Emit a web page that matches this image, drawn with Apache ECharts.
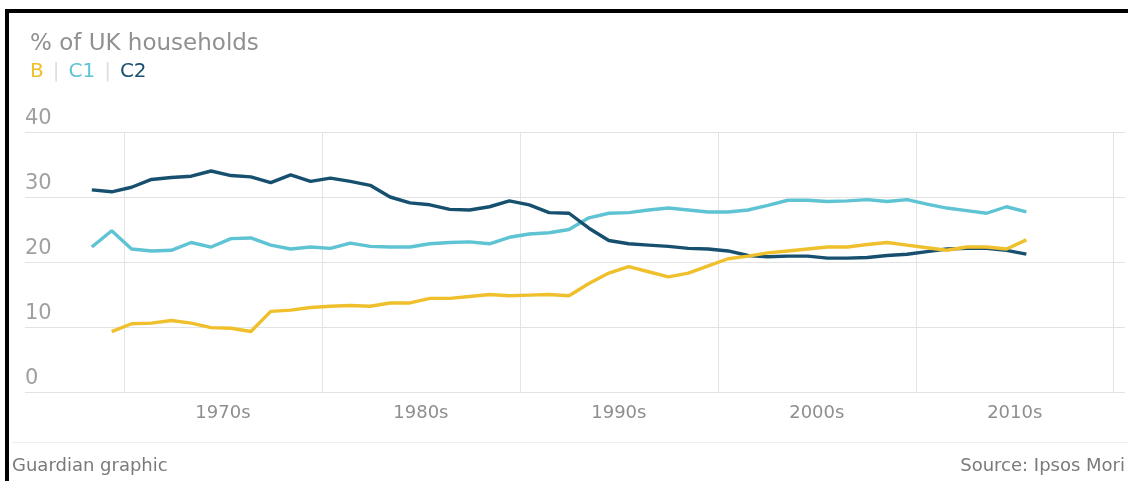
<!DOCTYPE html>
<html><head><meta charset="utf-8">
<script src="https://cdn.jsdelivr.net/npm/echarts@6/dist/echarts.min.js"></script>
<style>
html,body{margin:0;padding:0;background:#fff;overflow:hidden;width:1128px;height:481px;}
#frame{position:absolute;left:5px;top:9px;width:1123px;height:472px;border-left:4px solid #000;border-top:4px solid #000;box-sizing:border-box;}
#chart{position:absolute;left:0;top:0;width:1128px;height:481px;}
</style></head><body>
<div id="frame"></div>
<div id="chart"></div>
<script>
const years = [1968,1969,1970,1971,1972,1973,1974,1975,1976,1977,1978,1979,1980,1981,1982,1983,1984,1985,1986,1987,1988,1989,1990,1991,1992,1993,1994,1995,1996,1997,1998,1999,2000,2001,2002,2003,2004,2005,2006,2007,2008,2009,2010,2011,2012,2013,2014,2015];
const seriesB  = [null,9.3,10.5,10.6,11.0,10.6,9.9,9.8,9.3,12.4,12.6,13.0,13.2,13.3,13.2,13.7,13.7,14.4,14.4,14.7,15.0,14.8,14.9,15.0,14.8,16.7,18.3,19.3,18.5,17.7,18.3,19.4,20.5,20.9,21.4,21.7,22.0,22.3,22.3,22.7,23.0,22.6,22.2,21.8,22.3,22.3,22.0,23.4];
const seriesC1 = [22.3,24.8,22.0,21.7,21.8,23.0,22.3,23.6,23.7,22.6,22.0,22.3,22.1,22.9,22.4,22.3,22.3,22.8,23.0,23.1,22.8,23.8,24.3,24.5,25.0,26.8,27.5,27.6,28.0,28.3,28.0,27.7,27.7,28.0,28.7,29.5,29.5,29.3,29.4,29.6,29.3,29.6,28.9,28.3,27.9,27.5,28.5,27.7];
const seriesC2 = [31.1,30.8,31.5,32.7,33.0,33.2,34.0,33.3,33.1,32.2,33.4,32.4,32.9,32.4,31.8,30.0,29.1,28.8,28.1,28.0,28.5,29.4,28.8,27.6,27.5,25.2,23.3,22.8,22.6,22.4,22.1,22.0,21.7,21.0,20.8,20.9,20.9,20.6,20.6,20.7,21.0,21.2,21.6,22.0,22.1,22.1,21.8,21.2];
const decadeLabels = ['1970s','1980s','1990s','2000s','2010s'];
const yTicks = [0,10,20,30,40];

const colB = '#efc02c', colC1 = '#5ec3d3', colC2 = '#17506f';
const FONT = 'DejaVu Sans';

const pairs = arr => years.map((y,i) => [y, arr[i]]);

const chart = echarts.init(document.getElementById('chart'), null, {renderer:'canvas'});
chart.setOption({
  animation:false,
  backgroundColor:'transparent',
  textStyle:{fontFamily:FONT},
  title:[
    {text:'% of UK households', left:25, top:28, textStyle:{fontFamily:FONT, fontSize:23, fontWeight:'normal', color:'#909090'}},
    {text:'{b|B}{s||}{c1|C1}{s||}{c2|C2}', left:25, top:57,
     textStyle:{fontFamily:FONT, fontSize:20, fontWeight:'normal',
       rich:{b:{color:colB,fontSize:20,fontFamily:FONT}, s:{color:'#dedede',fontSize:20,fontFamily:FONT,padding:[0,9,0,9]}, c1:{color:colC1,fontSize:20,fontFamily:FONT}, c2:{color:colC2,fontSize:20,fontFamily:FONT}}}}
  ],
  grid:{left:25, right:0, top:132, bottom:89, containLabel:false},
  xAxis:[
    {type:'value', min:1965, max:2020.57, interval:5,
     axisLine:{show:false}, axisTick:{show:false},
     splitLine:{show:true, showMaxLine:false, lineStyle:{color:['rgba(0,0,0,0)','#e3e3e3'], width:1}},
     axisLabel:{color:'#8e8e8e', fontSize:18, fontFamily:FONT, margin:12,
       formatter:v => { const r = Math.round(v); const lab = (r - 5) + 's'; return (Math.abs(v - r) < 1e-6 && r % 10 === 5 && decadeLabels.indexOf(lab) >= 0) ? lab : ''; }}},
    {type:'value', min:1964.64, max:2019.96, show:false}
  ],
  yAxis:{type:'value', min:yTicks[0], max:yTicks[yTicks.length-1], interval:10,
    axisLine:{show:false}, axisTick:{show:false},
    splitLine:{lineStyle:{color:'#e3e3e3', width:1}},
    axisLabel:{inside:true, margin:0, align:'left', verticalAlign:'bottom', padding:[0,0,3,0], color:'#a0a0a0', fontSize:21, fontFamily:FONT}},
  series:[
    {name:'C1', type:'line', xAxisIndex:1, data:pairs(seriesC1), showSymbol:false, symbol:'none', lineStyle:{color:colC1, width:3.4}, itemStyle:{color:colC1}},
    {name:'C2', type:'line', xAxisIndex:1, data:pairs(seriesC2), showSymbol:false, symbol:'none', lineStyle:{color:colC2, width:3.4}, itemStyle:{color:colC2}},
    {name:'B', type:'line', xAxisIndex:1, data:pairs(seriesB), showSymbol:false, symbol:'none', connectNulls:false, lineStyle:{color:colB, width:3.4}, itemStyle:{color:colB}}
  ],
  graphic:[
    {type:'line', shape:{x1:12, y1:442.5, x2:1128, y2:442.5}, style:{stroke:'#eeeeee', lineWidth:1}},
    {type:'text', left:12, top:457, style:{text:'Guardian graphic', fill:'#7a7a7a', fontSize:18, fontFamily:FONT}},
    {type:'text', right:3, top:457, style:{text:'Source: Ipsos Mori', fill:'#7a7a7a', fontSize:18, fontFamily:FONT}}
  ]
});
</script>
</body></html>
